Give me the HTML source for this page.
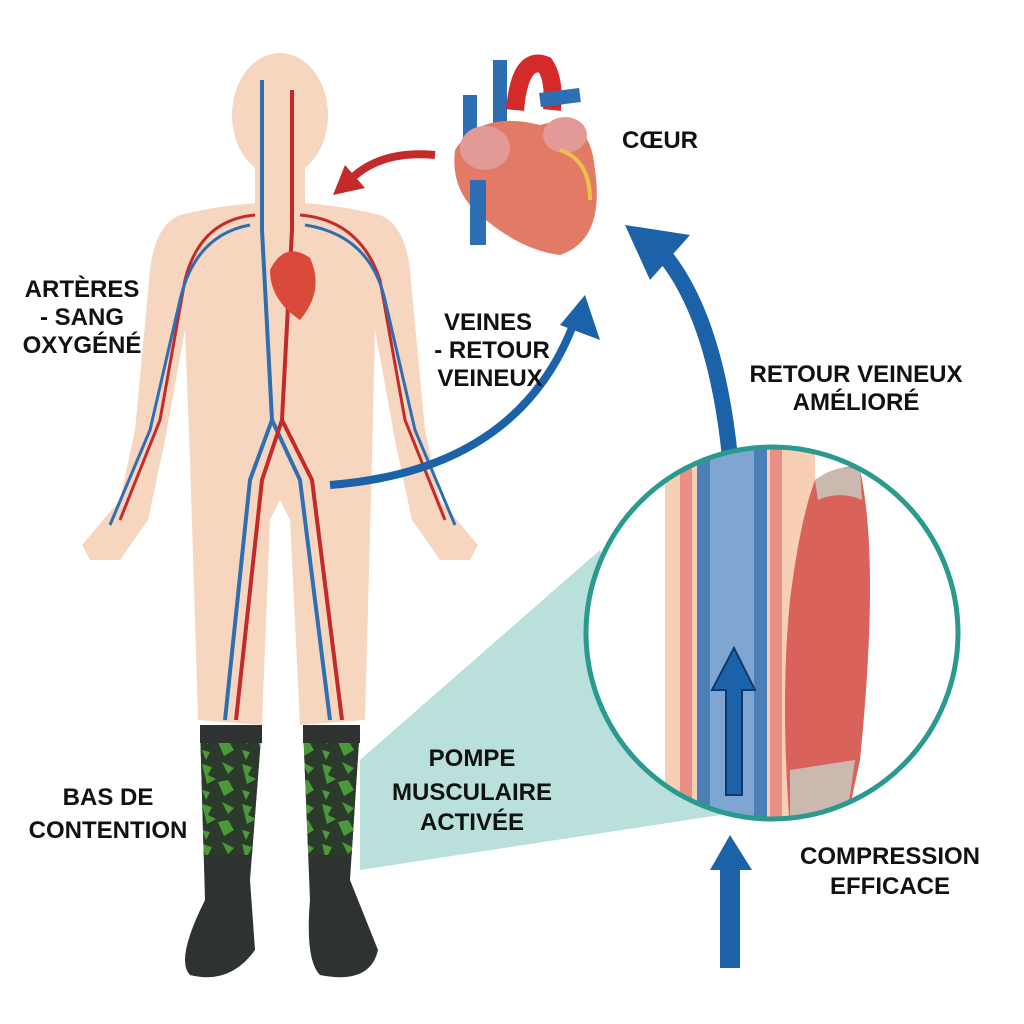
<!DOCTYPE html>
<html><head><meta charset="utf-8"><style>
html,body{margin:0;padding:0;background:#fff}
svg{display:block}
text{font-family:"Liberation Sans Narrow","Liberation Sans",sans-serif;font-weight:bold;fill:#111;font-size:24px;text-anchor:middle}
</style></head><body>
<svg width="1024" height="1024" viewBox="0 0 1024 1024">
<defs>
<clipPath id="cc"><circle cx="772" cy="633" r="186"/></clipPath>
<clipPath id="top"><rect x="0" y="720" width="1024" height="135"/></clipPath>
<pattern id="camo" width="40" height="40" patternUnits="userSpaceOnUse">
<rect width="40" height="40" fill="#2c3a2c"/>
<path d="M2 4 l10 3 l-4 8 l8 4 l-9 5z M22 2 l12 6 l-6 6z M18 22 l10 -2 l6 10 l-10 6z M2 30 l8 2 l-4 8z" fill="#4a9a3a"/>
</pattern>
</defs>
<!-- teal wedge -->
<polygon points="360,760 600,550 720,815 360,870" fill="#b9e0da"/>
<!-- body -->
<g fill="#f7d6c0">
<ellipse cx="280" cy="115" rx="48" ry="62"/>
<rect x="255" y="160" width="50" height="50"/>
<path d="M180 215 Q280 190 380 215 Q405 225 410 270 L425 430 L440 500 L478 545 L470 560 L440 560 L412 520 L395 440 L375 330 L372 460 L365 720 L300 725 L290 520 L280 500 L270 520 L262 725 L198 720 L190 460 L185 330 L165 440 L148 520 L120 560 L90 560 L82 545 L120 500 L135 430 L150 270 Q155 225 180 215Z"/>
</g>
<!-- vessels -->
<g fill="none" stroke-width="4">
<path d="M262 80 L262 230 L272 420 L250 480 L225 720 M272 420 L300 480 L330 720" stroke="#2e6fb3"/>
<path d="M292 90 L292 230 L282 420 L262 480 L236 720 M282 420 L312 480 L342 720" stroke="#c52a2a"/>
<path d="M255 215 Q200 220 185 280 L160 420 L120 520 M300 215 Q360 220 380 280 L405 420 L445 520" stroke="#c52a2a" stroke-width="3"/>
<path d="M250 225 Q195 235 180 300 L150 430 L110 525 M305 225 Q370 235 385 300 L415 430 L455 525" stroke="#2e6fb3" stroke-width="3"/>
</g>
<path d="M270 270 Q285 240 310 258 Q325 290 300 320 Q270 300 270 270Z" fill="#d94a3a"/>
<!-- socks -->
<path d="M200 725 L262 725 L250 880 L255 950 Q230 985 190 975 Q175 960 205 900Z" fill="#2e3230"/>
<path d="M303 725 L360 725 L350 880 L378 950 Q370 985 320 975 Q305 960 310 900Z" fill="#2e3230"/>
<g clip-path="url(#top)">
<path d="M200 725 L262 725 L250 880 L205 900Z" fill="url(#camo)"/>
<path d="M303 725 L360 725 L350 880 L310 900Z" fill="url(#camo)"/>
</g>
<rect x="200" y="725" width="62" height="18" fill="#2e3230"/>
<rect x="303" y="725" width="57" height="18" fill="#2e3230"/>
<!-- heart -->
<path d="M470 95 L470 150 M500 60 L500 140" stroke="#2e6fb3" stroke-width="14"/>
<path d="M515 110 Q520 55 545 65 Q555 80 552 110" stroke="#d42a2a" stroke-width="18" fill="none"/>
<path d="M540 100 L580 95" stroke="#2e6fb3" stroke-width="14"/>
<path d="M455 150 Q480 110 540 125 Q590 110 595 170 Q605 240 560 255 Q520 250 480 215 Q450 190 455 150Z" fill="#e27a66"/>
<ellipse cx="485" cy="148" rx="25" ry="22" fill="#e39a96"/>
<ellipse cx="565" cy="135" rx="22" ry="18" fill="#e39a96"/>
<path d="M478 180 L478 245" stroke="#2e6fb3" stroke-width="16"/>
<path d="M560 150 Q590 160 590 200" stroke="#e8c24a" stroke-width="4" fill="none"/>
<!-- arrows -->
<path d="M435 155 Q380 150 350 180" stroke="#c52a2a" stroke-width="8" fill="none"/>
<polygon points="333,195 345,165 365,188" fill="#c52a2a"/>
<path d="M330 485 Q520 470 575 320" stroke="#1c62a8" stroke-width="8" fill="none"/>
<polygon points="560,325 585,295 600,340" fill="#1c62a8"/>
<path d="M735 540 Q730 330 660 250" stroke="#1c62a8" stroke-width="16" fill="none"/>
<polygon points="625,225 690,235 650,280" fill="#1c62a8"/>
<!-- circle contents -->
<g clip-path="url(#cc)">
<rect x="585" y="440" width="380" height="390" fill="#fff"/>
<rect x="665" y="440" width="150" height="390" fill="#f6cfb4"/>
<rect x="680" y="440" width="12" height="390" fill="#e98f86"/>
<rect x="770" y="440" width="12" height="390" fill="#e98f86"/>
<rect x="697" y="440" width="70" height="390" fill="#4a7fb8"/>
<rect x="710" y="440" width="44" height="390" fill="#7fa6d3"/>
<path d="M815 480 Q850 460 860 470 Q880 560 860 760 L845 830 L790 830 Q780 700 790 600 Q800 520 815 480Z" fill="#d9635a"/>
<path d="M815 480 Q840 462 860 470 L862 500 Q840 490 818 500Z" fill="#cbb8ae"/>
<path d="M790 770 L855 760 L845 830 L790 830Z" fill="#cbb8ae"/>
<polygon points="712,690 734,648 755,690 742,690 742,795 726,795 726,690" fill="#1c62a8" stroke="#0d3a6a" stroke-width="2"/>
</g>
<circle cx="772" cy="633" r="186" fill="none" stroke="#2a9a8f" stroke-width="5"/>
<polygon points="710,870 730,835 752,870 740,870 740,968 720,968 720,870" fill="#1c62a8"/>
<!-- labels -->
<text x="82" y="297">ARTÈRES</text>
<text x="82" y="325">- SANG</text>
<text x="82" y="353">OXYGÉNÉ</text>
<text x="488" y="330">VEINES</text>
<text x="492" y="358">- RETOUR</text>
<text x="490" y="386">VEINEUX</text>
<text x="660" y="148">CŒUR</text>
<text x="856" y="382">RETOUR VEINEUX</text>
<text x="856" y="410">AMÉLIORÉ</text>
<text x="472" y="766">POMPE</text>
<text x="472" y="800">MUSCULAIRE</text>
<text x="472" y="830">ACTIVÉE</text>
<text x="108" y="805">BAS DE</text>
<text x="108" y="838">CONTENTION</text>
<text x="890" y="864">COMPRESSION</text>
<text x="890" y="894">EFFICACE</text>
</svg>
</body></html>
